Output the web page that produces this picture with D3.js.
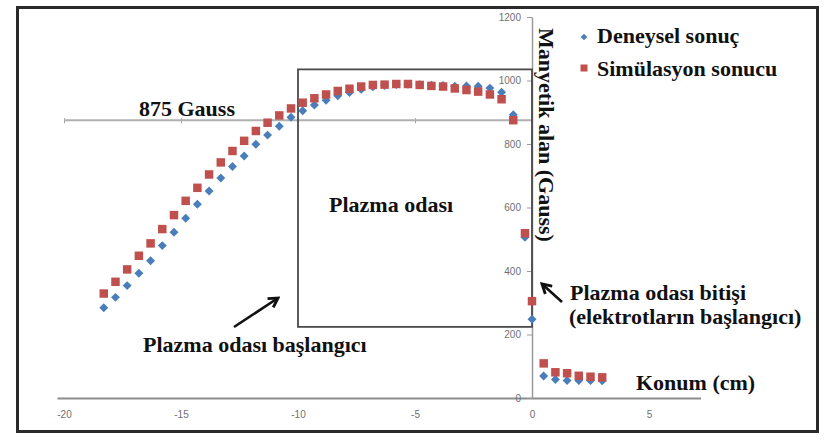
<!DOCTYPE html>
<html>
<head>
<meta charset="utf-8">
<script src="https://cdn.jsdelivr.net/npm/d3@7"></script>
<style>
  html, body { margin: 0; padding: 0; background: #fff; }
  svg { display: block; }
  .ann { font-family: "Liberation Serif", "Times New Roman", serif; font-weight: bold; font-size: 22px; fill: #111; }
  .tick text { font-family: "Liberation Sans", Arial, sans-serif; font-size: 10px; fill: #707070; }
</style>
</head>
<body>
<script>
// ---- data ----
const konum = [-18.3,-17.8,-17.3,-16.8,-16.3,-15.8,-15.3,-14.8,-14.3,-13.8,-13.3,-12.8,-12.3,-11.8,-11.3,-10.8,
  -10.3,-9.8,-9.3,-8.8,-8.3,-7.8,-7.3,-6.8,-6.3,-5.8,-5.3,-4.8,-4.3,-3.8,-3.3,-2.8,-2.3,-1.8,-1.3,-0.8,
  -0.3,0,0.5,1,1.5,2,2.5,3];
const deneysel = [284,317,354,393,432,480,522,566,610,652,693,729,762,799,828,856,
  884,905,923,938,952,962,972,980,984,987,988,987,985,984,982,983,982,976,963,892,
  506,248,69,58,55,55,55,54];
const simulasyon = [329,366,405,448,487,532,576,621,662,704,742,778,810,841,867,890,
  912,930,944,956,967,974,981,986,987,989,989,986,983,981,975,970,965,956,941,875,
  519,305,109,81,78,70,67,65];
const xTicks = [-20,-15,-10,-5,0,5];
const yTicks = [0,200,400,600,800,1000,1200];
const seriesNames = ["Deneysel sonuç","Simülasyon sonucu"];
const refLevel = 875;               // "875 Gauss" line
const refTicks = [-20,-15,-10,-5];
const odaX = [-10, 0];              // Plazma odası box (cm)
const odaY = [224, 1035];           // Plazma odası box (Gauss)

const W = 828, H = 441;
const svg = d3.select("body").append("svg").attr("width", W).attr("height", H);
svg.append("rect").attr("width", W).attr("height", H).attr("fill", "#fff");

// scales
const x = d3.scaleLinear().domain([-20.3, 7.2]).range([532 - 20.3*23.4, 532 + 7.2*23.4]);
const y = d3.scaleLinear().domain([0, 1200]).range([398, 17]);
const plain = d => String(d);

// outer frame
svg.append("rect").attr("x", 17.5).attr("y", 7.5).attr("width", 800).attr("height", 424)
  .attr("fill", "none").attr("stroke", "#2a2a2a").attr("stroke-width", 3);

// bottom axis
const gx = svg.append("g").attr("transform", `translate(0,${y(0)})`)
  .call(d3.axisBottom(x).tickValues(xTicks).tickSize(0).tickPadding(13).tickFormat(plain));
gx.select(".domain").attr("stroke", "#8c8c8c").attr("stroke-width", 2);

// y axis
const gy = svg.append("g").attr("transform", `translate(${x(0)},0)`)
  .call(d3.axisLeft(y).tickValues(yTicks).tickSize(5).tickSizeOuter(0).tickPadding(6).tickFormat(plain));
gy.select(".domain").attr("stroke", "#9a9a9a").attr("stroke-width", 1.5);
gy.selectAll(".tick line").attr("stroke", "#9a9a9a");

// 875 Gauss reference line
const xr = d3.scaleLinear().domain([-20, 0]).range([x(-20), x(0)]);
const gr = svg.append("g").attr("transform", `translate(0,${y(refLevel) - 2})`)
  .call(d3.axisBottom(xr).tickValues(refTicks).tickSize(5).tickSizeOuter(0).tickFormat(""));
gr.select(".domain").remove();
gr.selectAll(".tick line").attr("stroke", "#a0a0a0");
svg.append("line").attr("x1", x(-20)).attr("x2", x(0)).attr("y1", y(refLevel)).attr("y2", y(refLevel))
  .attr("stroke", "#b0b0b0").attr("stroke-width", 2);

// Plazma odası box
svg.append("rect").attr("x", x(odaX[0])).attr("y", y(odaY[1]))
  .attr("width", x(odaX[1]) - x(odaX[0])).attr("height", y(odaY[0]) - y(odaY[1]))
  .attr("fill", "none").attr("stroke", "#4a4a4a").attr("stroke-width", 1.8);

// points
const blue = "#4a7ebb", red = "#c0504d";
const diamond = d3.symbol().type(d3.symbolSquare).size(40);
const square = d3.symbol().type(d3.symbolSquare).size(72);
svg.append("g").selectAll("path").data(konum.map((k,i)=>[k, deneysel[i]])).join("path")
  .attr("d", diamond).attr("fill", blue)
  .attr("transform", d => `translate(${x(d[0])},${y(d[1])}) rotate(45)`);
svg.append("g").selectAll("path").data(konum.map((k,i)=>[k, simulasyon[i]])).join("path")
  .attr("d", square).attr("fill", red)
  .attr("transform", d => `translate(${x(d[0])},${y(d[1])})`);

// legend
svg.append("path").attr("d", d3.symbol().type(d3.symbolSquare).size(22)())
  .attr("fill", blue).attr("transform", "translate(584,37) rotate(45)");
svg.append("path").attr("d", d3.symbol().type(d3.symbolSquare).size(49)())
  .attr("fill", red).attr("transform", "translate(584,68)");
svg.append("text").attr("class","ann").attr("x", 597).attr("y", 43).text(seriesNames[0]);
svg.append("text").attr("class","ann").attr("x", 597).attr("y", 76).text(seriesNames[1]);

// annotations
svg.append("text").attr("class","ann").attr("x", 139).attr("y", 116).text("875 Gauss");
svg.append("text").attr("class","ann").attr("x", 329).attr("y", 212).text("Plazma odası");
svg.append("text").attr("class","ann").attr("x", 143).attr("y", 352).text("Plazma odası başlangıcı");
svg.append("text").attr("class","ann").attr("x", 570).attr("y", 300).text("Plazma odası bitişi");
svg.append("text").attr("class","ann").attr("x", 569).attr("y", 324).text("(elektrotların başlangıcı)");
svg.append("text").attr("class","ann").attr("x", 636).attr("y", 390).text("Konum (cm)");
svg.append("text").attr("class","ann").attr("transform", "translate(539,28) rotate(90)")
  .text("Manyetik alan (Gauss)");

// arrows
const defs = svg.append("defs");
defs.append("marker").attr("id","ah").attr("viewBox","0 0 10 10").attr("refX",8).attr("refY",5)
  .attr("markerWidth",5).attr("markerHeight",5).attr("orient","auto")
  .append("path").attr("d","M1,1 L8,5 L1,9").attr("fill","none").attr("stroke","#111").attr("stroke-width",2.2);
svg.append("line").attr("x1",234).attr("y1",327).attr("x2",278).attr("y2",298)
  .attr("stroke","#111").attr("stroke-width",2.6).attr("marker-end","url(#ah)");
svg.append("line").attr("x1",562).attr("y1",302).attr("x2",542).attr("y2",284)
  .attr("stroke","#111").attr("stroke-width",2.6).attr("marker-end","url(#ah)");
</script>
</body>
</html>
